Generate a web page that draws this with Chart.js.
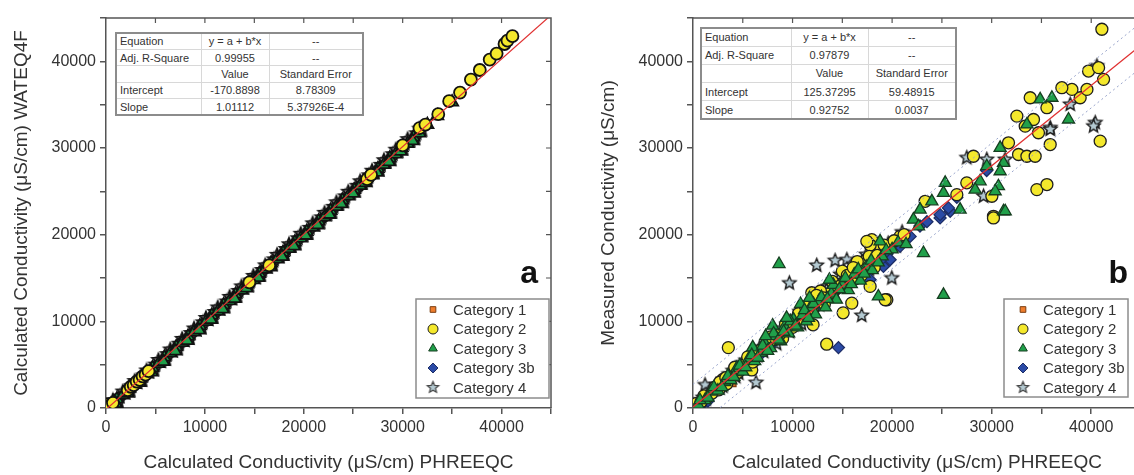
<!DOCTYPE html>
<html>
<head>
<meta charset="utf-8">
<script src="https://cdn.jsdelivr.net/npm/chart.js@4.4.1/dist/chart.umd.min.js"></script>
<style>
body{margin:0;background:#fff;overflow:hidden;width:1134px;height:475px;position:relative;font-family:"Liberation Sans",Arial,sans-serif}
.wrap{position:absolute;top:0}
table.fit{position:absolute;border-collapse:collapse;background:#fff;font-size:11px;color:#333;border:2px solid #8c8c8c;table-layout:fixed}
table.fit td{border:1px solid #d8d8d8;padding:0 3px;text-align:center;white-space:nowrap;overflow:hidden}
table.fit td:first-child{text-align:left}
</style>
</head>
<body>
<div class="wrap" style="left:0"><canvas id="chartA" width="565" height="475"></canvas></div>
<div class="wrap" style="left:570px"><canvas id="chartB" width="586" height="475"></canvas></div>

<script>
// categorias
const categorias = ["Category 1", "Category 2", "Category 3", "Category 3b", "Category 4"];

// ---- panel a: WATEQ4F vs PHREEQC ----
const a_cat1 = [[600,450],[1500,1400],[2400,2300],[3300,3200],[9000,8900],[12000,11950],[16000,15950]];
const a_cat2 = [[150,200],[300,450],[400,250],[700,600],[2200,2050],[2500,2450],[2800,2650],[3100,3050],[3400,3250],[3700,3650],[4000,3850],[4300,4250],[14500,14500],[16500,16450],[26400,26400],[26800,26900],[30000,30300],[31700,32300],[32300,32700],[33600,33900],[34700,35400],[35800,36400],[36900,37900],[37800,39000],[38800,40200],[39500,40900],[40300,42000],[40600,42400],[41100,42900]];
const a_cat3 = [[300,180],[1100,1020],[1700,1480],[2300,2220],[2900,2700],[3500,3420],[4100,3900],[4700,4640],[5300,5110],[5900,5850],[6500,6330],[7100,7060],[7700,7540],[8300,8270],[8900,8750],[9500,9480],[10100,9960],[10700,10690],[11300,11160],[11900,11900],[12500,12370],[13100,13100],[13700,13570],[14300,14310],[14900,14780],[15500,15520],[16100,15990],[16700,16730],[17300,17190],[17900,17940],[18500,18400],[19100,19150],[19700,19610],[20300,20360],[20900,20830],[21500,21570],[22100,22040],[22700,22780],[23300,23240],[23900,23990],[24500,24460],[25100,25190],[25700,25660],[26300,26400],[26900,26870],[27500,27610],[28100,28090],[28700,28830],[29300,29290],[29900,30040],[30500,30500],[31100,31250],[31700,31720],[32500,32700],[33500,33720],[35000,35300],
  [1000,491],[2200,1704],[3400,2917],[4600,4131],[5800,5344],[7000,6557],[8200,7770],[9400,8983],[10600,10197],[11800,11410],[13000,12623],[14200,13836],[15400,15049],[16600,16263],[17800,17476],[19000,18689],[20200,19902],[21400,21115],[22600,22329],[23800,23542],[25000,24755],[26200,25968],[27400,27181],[28600,28395],[29800,29608],[31000,30821]];
const a_cat3b = [[1200,1050],[7500,7450],[15000,14950],[18500,18450],[21600,21550],[22300,22250],[25600,25550],[25900,25800]];
const a_cat4 = [[500,420],[900,640],[1400,1330],[2000,1760],[2600,2560],[3200,2950],[3800,3760],[4400,4180],[5000,5010],[5600,5380],[6200,6220],[6800,6590],[7400,7420],[8000,7800],[8600,8650],[9200,9010],[9800,9880],[10400,10220],[11000,11080],[11600,11430],[12200,12290],[12800,12640],[13400,13510],[14000,13860],[14600,14700],[15200,15060],[15800,15930],[16400,16290],[17000,17150],[17600,17500],[18200,18350],[18800,18700],[19400,19580],[20000,19920],[20600,20790],[21200,21130],[21800,22000],[22400,22350],[23000,23210],[23600,23560],[24200,24420],[24800,24780],[25400,25640],[26000,25990],[26600,26850],[27200,27200],[27800,28060],[28400,28410],[29000,29280],[29600,29630],[30200,30490],[30800,30840],[31400,31700],[32000,32060],
  [700,880],[1700,1900],[2900,3110],[4100,4330],[5300,5540],[6500,6750],[7700,7970],[8900,9180],[10100,10390],[11300,11600],[12500,12820],[13700,14030],[14900,15240],[16100,16460],[17300,17670],[18500,18890],[19700,20100],[20900,21310],[22100,22520],[23300,23740],[24500,24950],[25700,26160],[26900,27380],[28100,28590],[29300,29800],[30500,31020],[31700,32230],
  [1300,794],[2500,2008],[3700,3221],[4900,4434],[6100,5647],[7300,6860],[8500,8074],[9700,9287],[10900,10500],[12100,11713],[13300,12926],[14500,14139],[15700,15353],[16900,16566],[18100,17779],[19300,18992],[20500,20206],[21700,21419],[22900,22632],[24100,23845],[25300,25058],[26500,26272],[27700,27485],[28900,28698],[30100,29911],[31300,31124]];
const a_fit = [[0,-171],[45000,45329]];
const a_stats = [
  ["Equation", "y = a + b*x", "--"],
  ["Adj. R-Square", "0.99955", "--"],
  ["", "Value", "Standard Error"],
  ["Intercept", "-170.8898", "8.78309"],
  ["Slope", "1.01112", "5.37926E-4"]
];

// ---- panel b: medida vs PHREEQC ----
const b_cat1 = [[500,600],[1800,1500],[2800,2600],[3300,2900],[4000,2850],[4600,4300]];
const b_cat2 = [[3550,6970],[13430,7360],[11930,13300],[5900,4390],[19470,12490],[19300,12490],[17960,19420],[20800,19800],[23320,23850],[26500,24620],[27500,25980],[30020,24430],[30180,22120],[30180,21930],[28170,29050],[32700,29250],[33540,29050],[34370,29050],[31690,30600],[34700,31760],[35880,30400],[34540,25200],[35550,25780],[32530,33680],[34200,33290],[33370,32520],[33870,35800],[35550,34650],[38890,35800],[39570,36760],[38060,36760],[37050,36960],[39730,38880],[40740,39270],[41240,37920],[40900,30790],[41070,43700],
  [300,500],[800,700],[1500,1300],[2200,2400],[2600,2100],[3000,3300],[3400,2800],[3900,3700],[4500,4100],[5200,5000],[6000,5300],[6800,6700],[7500,7200],[8200,7900],[9000,8000],[9500,9200],[10200,9800],[10800,10300],[11500,10500],[12000,11200],[12600,12400],[13200,12000],[13800,13300],[14500,13900],[15200,14300],[15800,15600],[16300,14900],[17000,16500],[17500,17200],[18200,16200],[18800,18600],[16500,16900],[15000,15800],[12800,13500],[17800,18800],[17460,19230],[17790,14030],[15950,12100],[15080,10980],[12060,9600],
  [1100,1400],[1900,1700],[2700,3000],[3300,3500],[4200,4700],[4800,4400],[5500,5900],[6300,6300],[7100,6700],[7800,8200],[8700,8500],[9300,9700],[10000,9300],[10600,10900],[11300,11700],[11900,11000],[12400,13000],[13100,12700],[14000,14600],[14800,14100],[15500,15300],[16100,16200],[16900,15300],[17700,17500],[18500,17600],[19200,18800],[20200,19300],[21200,20000]];
const b_cat3 = [[8640,16610],[25160,13060],[23150,17880],[31190,22700],[26830,22890],[18620,12870],[34870,35610],[36050,35800],[33540,32720],[30850,30020],[31190,28290],[30850,27320],[29510,27900],[28840,26160],[28340,25200],[30680,25590],[30350,25010],[31360,22700],[25330,25980],[25160,24820],[23990,23850],[22810,22890],[22140,21730],[22650,20960],[18790,19230],[37720,33290],
  [500,400],[1200,900],[1800,1900],[2500,2000],[3200,3000],[3800,3200],[4400,4600],[5000,4200],[5600,5700],[6200,5400],[6800,6400],[7200,7500],[7800,6900],[8300,8300],[8800,7700],[9200,9400],[9600,8600],[10100,10200],[10500,9300],[11000,10700],[11400,10000],[11800,11600],[12300,10800],[12700,12300],[13300,11600],[13900,13200],[14400,12500],[15000,14200],[15600,13600],[16200,15400],[16800,14700],[17400,16300],[18000,15900],[19000,17500],[20000,18300],[20600,19100],[21400,18900],[8000,9500],[10800,12000],[6000,7000],
  [700,900],[1500,1200],[2100,2400],[2900,2400],[3500,3700],[4100,3600],[4700,4900],[5300,4700],[5900,6100],[6500,5800],[7000,7200],[7500,6600],[8100,8600],[8600,7900],[9100,8800],[9800,10000],[10300,9500],[11200,11300],[11600,10400],[12100,12000],[12900,12800],[13500,12600],[14100,14200],[14700,13700],[15300,15000],[15900,14300],[16600,16000],[17200,15500],[17900,17000],[18600,16800],[19400,18200],[7300,8300],[9400,10400],[11700,12700],[13700,14800]];
const b_cat3b = [[14610,6970],[25830,22700],[24820,21930],[21810,19800],[20800,18650],[25660,23090],[24820,22310],[1000,500],[1500,800],[9000,8400],[11000,10400],[12500,11700],[14000,13200],[15500,14500],[16800,15200],[17500,16400],[18500,17300],[19500,17800],[22800,21000],[20200,19000],[19800,17110],[19130,16340],[17790,14800],
  [2000,1800],[4500,4300],[6800,6200],[8000,7500],[10500,9900],[13000,12300],[16000,14800],[18800,17000],[21000,19300],[23500,21500],[26500,24300],[29500,27400]];
const b_cat4 = [[12430,16450],[9680,14410],[6330,2930],[1210,2660],[14270,17000],[15450,17100],[16950,10670],[19970,14990],[27500,28870],[29510,28670],[31350,28670],[29180,24430],[35880,32330],[40570,39460],[40400,32910],[40230,32520],[37890,35030],[35880,32140],
  [400,300],[1000,1200],[1600,1500],[2300,2700],[3000,2500],[3600,3900],[4300,3600],[5000,5200],[5700,5000],[6500,6000],[7100,6500],[7700,7800],[8400,7400],[9000,9200],[9700,8800],[10300,10500],[10900,9700],[11700,11400],[12300,12700],[13000,12100],[13600,14000],[14200,13500],[14800,14800],[15600,15100],[16300,15800],[17000,17000],[17700,16000],[18400,17900],[19200,18300],[21000,20300],
  [600,900],[1300,1000],[2000,2100],[2700,2300],[3400,3300],[4000,4300],[4600,4000],[5300,5500],[6100,5700],[6700,7000],[7400,7000],[8000,8100],[8700,8300],[9400,9600],[10100,9600],[10700,11100],[11300,10800],[12000,12200],[12700,11900],[13400,13600],[14100,13000],[14800,15400],[15500,14600],[16100,16600],[16700,15600],[17400,17700],[18100,16900],[18900,18000],[19600,19000],[20400,18700]];
const b_fit = [[0,125],[45000,41864]];
const b_bandUp = [[0,2725],[45000,44464]];
const b_bandDown = [[0,-2475],[45000,39264]];
const b_stats = [
  ["Equation", "y = a + b*x", "--"],
  ["Adj. R-Square", "0.97879", "--"],
  ["", "Value", "Standard Error"],
  ["Intercept", "125.37295", "59.48915"],
  ["Slope", "0.92752", "0.0037"]
];

const axisTicks = [0, 10000, 20000, 30000, 40000];

// estrella rellena (Chart.js solo trae el asterisco)
function hacerEstrella(r, fill, stroke, lw) {
    const c = document.createElement("canvas");
    const s = Math.ceil(r * 2 + 5);
    c.width = s; c.height = s;
    const g = c.getContext("2d");
    g.beginPath();
    for (let i = 0; i < 10; i++) {
        const rr = i % 2 === 0 ? r : r * 0.45;
        const ang = -Math.PI / 2 + i * Math.PI / 5;
        const px = s / 2 + rr * Math.cos(ang), py = s / 2 + rr * Math.sin(ang);
        if (i === 0) g.moveTo(px, py); else g.lineTo(px, py);
    }
    g.closePath();
    g.fillStyle = fill; g.fill();
    g.lineWidth = lw; g.strokeStyle = stroke; g.stroke();
    return c;
}

const estrellaA = hacerEstrella(6.5, "#d6c8d0", "#111", 1.8);
const estrellaB = hacerEstrella(7, "#b4cad2", "#1a1a1a", 1.4);
const estrellaLeyenda = hacerEstrella(6, "#b4cad2", "#444", 1.2);

const pts = arr => arr.map(p => ({ x: p[0], y: p[1] }));

function estilos(panel) {
    const a = panel === "a";
    const dark = a ? "#111" : "#1e1e1e";
    return [
        { pointStyle: "rect", radius: 4.5, bg: "#ef7d2c", border: a ? dark : "#7a3e12" },
        { pointStyle: "circle", radius: 6, bg: "#f4e82c", border: dark },
        { pointStyle: "triangle", radius: 7, bg: "#20a04a", border: a ? dark : "#163e20" },
        { pointStyle: "rectRot", radius: 6, bg: "#2b4ba6", border: a ? dark : "#1d2d66" },
        { pointStyle: a ? estrellaA : estrellaB, radius: 7, bg: "#c9d6dc", border: dark }
    ];
}

function datasetsPanel(panel, cats, lineas) {
    const st = estilos(panel);
    const ds = [];
    lineas.forEach(l => ds.push({
        type: "line", data: pts(l.data), borderColor: l.color, borderWidth: l.width,
        borderDash: l.dash || [], pointRadius: 0, fill: false, tension: 0
    }));
    // orden de dibujo: el primero queda encima
    const orden = panel === "a" ? [1, 2, 0, 3, 4] : [2, 1, 3, 0, 4];
    orden.forEach(i => ds.push({
        label: categorias[i], data: pts(cats[i]),
        pointStyle: st[i].pointStyle, pointRadius: st[i].radius,
        backgroundColor: st[i].bg, borderColor: st[i].border, borderWidth: panel === "a" ? 1.8 : 1.3
    }));
    return ds;
}

// marco superior/derecho, leyenda y letra del panel
const marcoPlugin = {
    id: "marco",
    afterDraw(chart, args, opts) {
        const { ctx, chartArea: ca, scales } = chart;
        ctx.save();
        ctx.strokeStyle = "#555"; ctx.lineWidth = 1.5;
        ctx.beginPath();
        ctx.moveTo(ca.left, ca.top); ctx.lineTo(ca.right, ca.top); ctx.lineTo(ca.right, ca.bottom);
        ctx.stroke();
        ctx.lineWidth = 1.2;
        for (let v = 5000; v < 45000; v += 5000) {
            const x = scales.x.getPixelForValue(v);
            const y = scales.y.getPixelForValue(v);
            ctx.beginPath();
            ctx.moveTo(x, ca.top); ctx.lineTo(x, ca.top + 5);
            ctx.moveTo(ca.right, y); ctx.lineTo(ca.right - 5, y);
            ctx.stroke();
        }
        // leyenda
        const L = opts.legend;
        ctx.fillStyle = "#fff";
        ctx.fillRect(L.x, L.y, L.w, L.h);
        ctx.strokeStyle = "#8c8c8c"; ctx.lineWidth = 1.5;
        ctx.strokeRect(L.x, L.y, L.w, L.h);
        const st = estilos("b");
        ctx.font = "15px 'Liberation Sans', Arial, sans-serif";
        ctx.textBaseline = "middle"; ctx.textAlign = "left";
        categorias.forEach((c, i) => {
            const yy = L.y + 10.5 + i * 19.5;
            ctx.fillStyle = st[i].bg; ctx.strokeStyle = st[i].border; ctx.lineWidth = 1;
            const ps = i === 4 ? estrellaLeyenda : st[i].pointStyle;
            Chart.helpers.drawPoint(ctx, { pointStyle: ps, radius: i === 0 ? 4 : 5, rotation: 0, borderWidth: 1 }, L.x + L.mk, yy);
            ctx.fillStyle = "#333";
            ctx.fillText(c, L.x + L.tx, yy + 1);
        });
        // letra
        ctx.font = "bold 32px 'Liberation Sans', Arial, sans-serif";
        ctx.textAlign = "right"; ctx.textBaseline = "alphabetic";
        ctx.fillStyle = "#111";
        ctx.fillText(opts.letra.text, opts.letra.x, opts.letra.y);
        ctx.restore();
    }
};

function opciones(cfg) {
    const tickFont = { family: "'Liberation Sans', Arial, sans-serif", size: 16 };
    const titleFont = { family: "'Liberation Sans', Arial, sans-serif", size: 19 };
    const grid = { drawOnChartArea: false, drawTicks: true, tickLength: 6, color: "#555", lineWidth: 1.5 };
    const lbl = v => axisTicks.includes(v) ? String(v) : "";
    return {
        responsive: false,
        animation: false,
        devicePixelRatio: 1,
        layout: { padding: { top: 18, right: cfg.padRight, bottom: 0, left: 0 } },
        plugins: {
            legend: { display: false },
            tooltip: { enabled: false },
            marco: { legend: cfg.legend, letra: cfg.letra }
        },
        scales: {
            x: {
                type: "linear", min: 0, max: 45000,
                grid, border: { color: "#555", width: 1.5 },
                ticks: { stepSize: 5000, autoSkip: false, maxRotation: 0, padding: 4, color: "#333", font: tickFont, callback: lbl },
                title: { display: true, text: cfg.xTitle, color: "#333", font: titleFont, padding: { top: 0, bottom: 1 } },
                afterFit: s => { s.height = 67; }
            },
            y: {
                type: "linear", min: 0, max: 45000,
                grid, border: { color: "#555", width: 1.5 },
                ticks: { stepSize: 5000, autoSkip: false, padding: 4, color: "#333", font: tickFont, callback: lbl },
                title: { display: true, text: cfg.yTitle, color: "#333", font: titleFont, padding: { top: cfg.yTitlePad, bottom: 0 } },
                afterFit: s => { s.width = cfg.yWidth; }
            }
        }
    };
}

new Chart(document.getElementById("chartA"), {
    type: "scatter",
    data: {
        datasets: datasetsPanel("a", [a_cat1, a_cat2, a_cat3, a_cat3b, a_cat4], [
            { data: a_fit, color: "#e03030", width: 1.2 }
        ])
    },
    options: opciones({
        padRight: 14, yWidth: 106, yTitlePad: 10,
        xTitle: "Calculated Conductivity (\u03bcS/cm) PHREEQC",
        yTitle: "Calculated Conductivity (\u03bcS/cm) WATEQ4F",
        legend: { x: 416, y: 299, w: 133, h: 99, mk: 17, tx: 37 },
        letra: { text: "a", x: 538, y: 283 }
    }),
    plugins: [marcoPlugin]
});

new Chart(document.getElementById("chartB"), {
    type: "scatter",
    data: {
        datasets: datasetsPanel("b", [b_cat1, b_cat2, b_cat3, b_cat3b, b_cat4], [
            { data: b_fit, color: "#e03030", width: 1.4 },
            { data: b_bandUp, color: "#9aa6cc", width: 1, dash: [2, 3] },
            { data: b_bandDown, color: "#9aa6cc", width: 1, dash: [2, 3] }
        ])
    },
    options: opciones({
        padRight: 15, yWidth: 123, yTitlePad: 27,
        xTitle: "Calculated Conductivity (\u03bcS/cm) PHREEQC",
        yTitle: "Measured Conductivity (\u03bcS/cm)",
        legend: { x: 434, y: 299, w: 124, h: 98, mk: 19, tx: 39 },
        letra: { text: "b", x: 558, y: 283 }
    }),
    plugins: [marcoPlugin]
});

// tablas de ajuste
function tabla(stats, left, top, cols, rowH) {
    const t = document.createElement("table");
    t.className = "fit";
    t.style.left = left + "px"; t.style.top = top + "px";
    const cg = document.createElement("colgroup");
    cols.forEach(w => { const c = document.createElement("col"); c.style.width = w + "px"; cg.appendChild(c); });
    t.appendChild(cg);
    stats.forEach(r => {
        const tr = document.createElement("tr");
        tr.style.height = rowH + "px";
        r.forEach(v => { const td = document.createElement("td"); td.textContent = v; tr.appendChild(td); });
        t.appendChild(tr);
    });
    document.body.appendChild(t);
}
tabla(a_stats, 115, 32, [85, 68, 94], 16.4);
tabla(b_stats, 700, 27, [90, 77, 88], 18.2);
</script>
</body>
</html>
